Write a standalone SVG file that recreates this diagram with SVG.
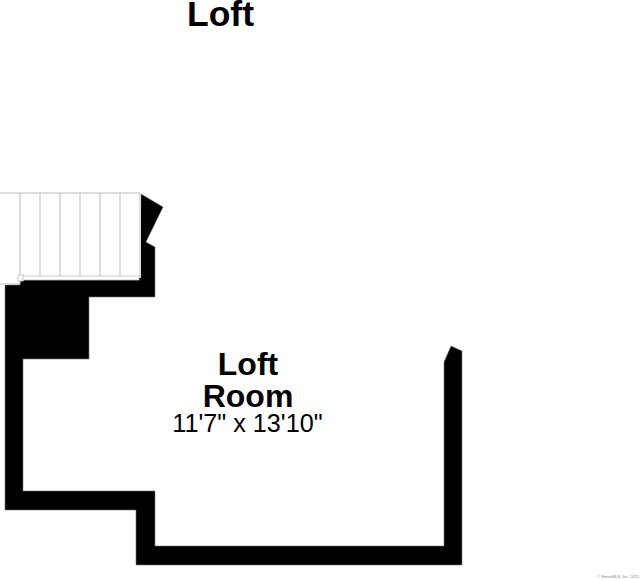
<svg xmlns="http://www.w3.org/2000/svg" width="640" height="579" viewBox="0 0 640 579">
<style>
text{font-family:"Liberation Sans",Arial,sans-serif;fill:#000;text-anchor:middle}
.b{font-weight:bold}
.s{fill:none;stroke:#bdbdbd;stroke-width:1}
</style>
<rect width="640" height="579" fill="#fff"/>
<text class="b" x="220.500" y="26" font-size="35.500">Loft</text>
<path id="walls" d="M141 194L163 207L146 242L155 247V297H89V359H23V491H155V546H444V362L451 346L462 351V565H136V510H5V285H20V270H139Z" fill="#000" stroke="#777" stroke-width=".6"/>
<g id="stairs">
<path d="M0 193H141V278H20V284H0Z" fill="#fff"/>
<path class="s" d="M0 193H140V278M20 193V284H0M40 193V276M60 193V276M80 193V276M100 193V276M120 193V276"/>
<rect x="18" y="275" width="5.500" height="6" fill="#fff" stroke="#bbb" stroke-width=".8"/>
<rect x="23" y="276" width="116" height="4" fill="#fff" stroke="#bbb" stroke-width=".8"/>
</g>
<g id="room">
<text class="b" x="248" y="375" font-size="32">Loft</text>
<text class="b" x="248" y="407" font-size="32">Room</text>
<text x="247.500" y="432" font-size="25.200">11'7" x 13'10"</text>
</g>
<text x="618" y="578" font-size="4" style="fill:#888">© SmartMLS, Inc. 2023</text>
</svg>
